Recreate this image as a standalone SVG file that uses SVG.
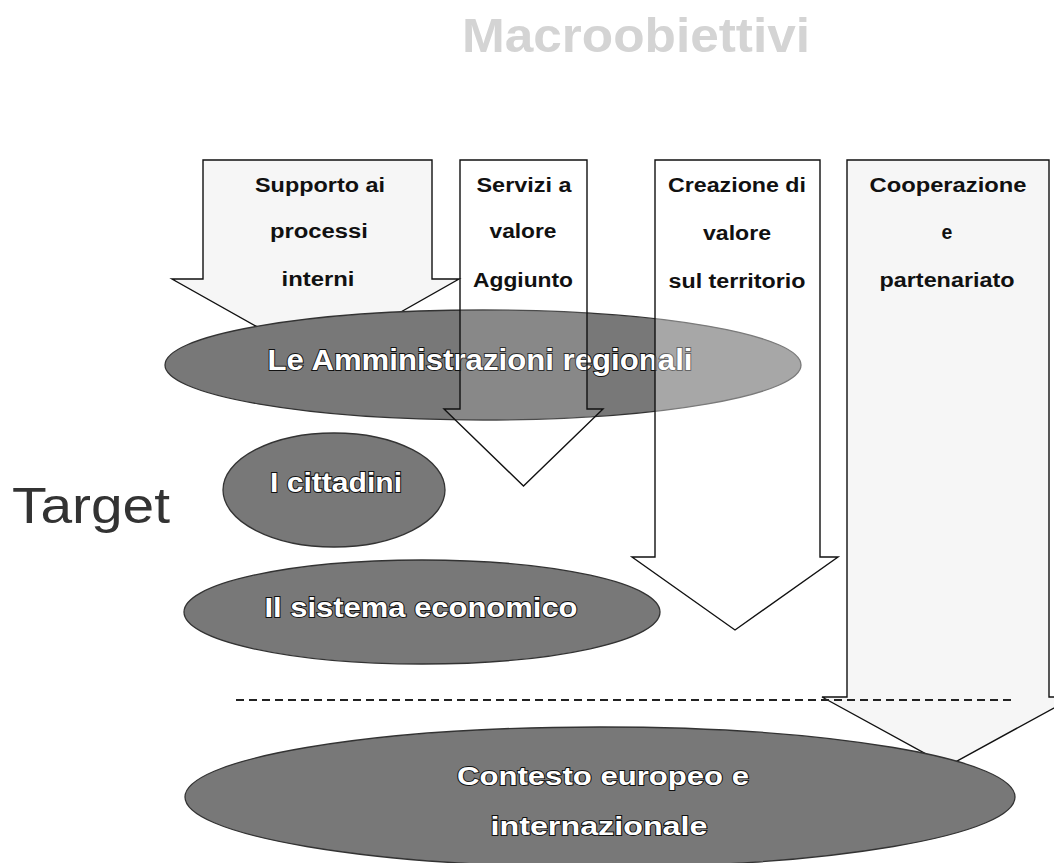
<svg xmlns="http://www.w3.org/2000/svg" width="1054" height="863" viewBox="0 0 1054 863">
<style>
.arrow{fill:#f6f6f6;stroke:#111;stroke-width:1.4;stroke-linejoin:miter}
.veil2{fill:#ffffff;fill-opacity:0.12}
.veil3{fill:#ffffff;fill-opacity:0.35}
.atxt{font-family:"Liberation Sans",Arial,sans-serif;font-weight:bold;font-size:19.5px;fill:#111;text-anchor:middle}
.ell{fill:#787878;stroke:#333;stroke-width:1.3}
.etxt{font-family:"Liberation Sans",Arial,sans-serif;font-weight:bold;fill:#fff;stroke:#111;stroke-width:1.8;paint-order:stroke;text-anchor:middle}
.title{font-family:"Liberation Sans",Arial,sans-serif;font-weight:bold;font-size:48px;fill:#d4d4d4;text-anchor:middle}
.target{font-family:"Liberation Sans",Arial,sans-serif;font-size:50px;fill:#333}
.sep{stroke:#222;stroke-width:1.8;stroke-dasharray:8 5;fill:none}
</style>
<rect width="1054" height="863" fill="#fff"/>
<g id="title"><text class="title" x="636" y="52" textLength="348" lengthAdjust="spacingAndGlyphs">Macroobiettivi</text></g>
<g id="target-label"><text class="target" x="12" y="523" textLength="158" lengthAdjust="spacingAndGlyphs">Target</text></g>

<g id="arrow-supporto">
<path class="arrow" d="M203,160 H432 V279 H459 L316,360 L172,279 H203 Z"/>
<text class="atxt" x="320" y="192" textLength="130" lengthAdjust="spacingAndGlyphs">Supporto ai</text>
<text class="atxt" x="319" y="238" textLength="98" lengthAdjust="spacingAndGlyphs">processi</text>
<text class="atxt" x="318" y="286" textLength="73" lengthAdjust="spacingAndGlyphs">interni</text>
</g>
<g id="arrow-cooperazione">
<path class="arrow" d="M847,160 H1049 V697 H1074 L948,766 L822,697 H847 Z"/>
<text class="atxt" x="948" y="192" textLength="157" lengthAdjust="spacingAndGlyphs">Cooperazione</text>
<text class="atxt" x="947" y="239">e</text>
<text class="atxt" x="947" y="287" textLength="135" lengthAdjust="spacingAndGlyphs">partenariato</text>
</g>

<g id="node-amministrazioni">
<ellipse class="ell" cx="483" cy="365" rx="318" ry="55"/>
<text class="etxt" x="480" y="370" font-size="30" textLength="425" lengthAdjust="spacingAndGlyphs">Le Amministrazioni regionali</text>
</g>
<g id="node-cittadini">
<ellipse class="ell" cx="334" cy="490" rx="111" ry="57"/>
<text class="etxt" x="336" y="492" font-size="27" textLength="132" lengthAdjust="spacingAndGlyphs">I cittadini</text>
</g>
<g id="node-sistema">
<ellipse class="ell" cx="422" cy="612" rx="238" ry="52"/>
<text class="etxt" x="421" y="617" font-size="27" textLength="313" lengthAdjust="spacingAndGlyphs">Il sistema economico</text>
</g>
<g id="node-contesto">
<ellipse class="ell" cx="600" cy="797" rx="415" ry="70"/>
<text class="etxt" x="603" y="785" font-size="26" textLength="292" lengthAdjust="spacingAndGlyphs">Contesto europeo e</text>
<text class="etxt" x="599" y="835" font-size="26" textLength="217" lengthAdjust="spacingAndGlyphs">internazionale</text>
</g>

<g id="arrow-servizi">
<path class="arrow veil2" d="M460,160 H587 V409 H603 L523.5,486 L444,409 H460 Z"/>
<text class="atxt" x="524" y="192" textLength="95" lengthAdjust="spacingAndGlyphs">Servizi a</text>
<text class="atxt" x="523" y="238" textLength="67" lengthAdjust="spacingAndGlyphs">valore</text>
<text class="atxt" x="523" y="287" textLength="100" lengthAdjust="spacingAndGlyphs">Aggiunto</text>
</g>
<g id="arrow-creazione">
<path class="arrow veil3" d="M655,160 H820 V557 H838 L735,630 L632,557 H655 Z"/>
<text class="atxt" x="737" y="192" textLength="138" lengthAdjust="spacingAndGlyphs">Creazione di</text>
<text class="atxt" x="737" y="240" textLength="68" lengthAdjust="spacingAndGlyphs">valore</text>
<text class="atxt" x="737" y="288" textLength="137" lengthAdjust="spacingAndGlyphs">sul territorio</text>
</g>

<g id="connectors">
<line class="sep" x1="236" y1="700" x2="1014" y2="700"/>
</g>
</svg>
